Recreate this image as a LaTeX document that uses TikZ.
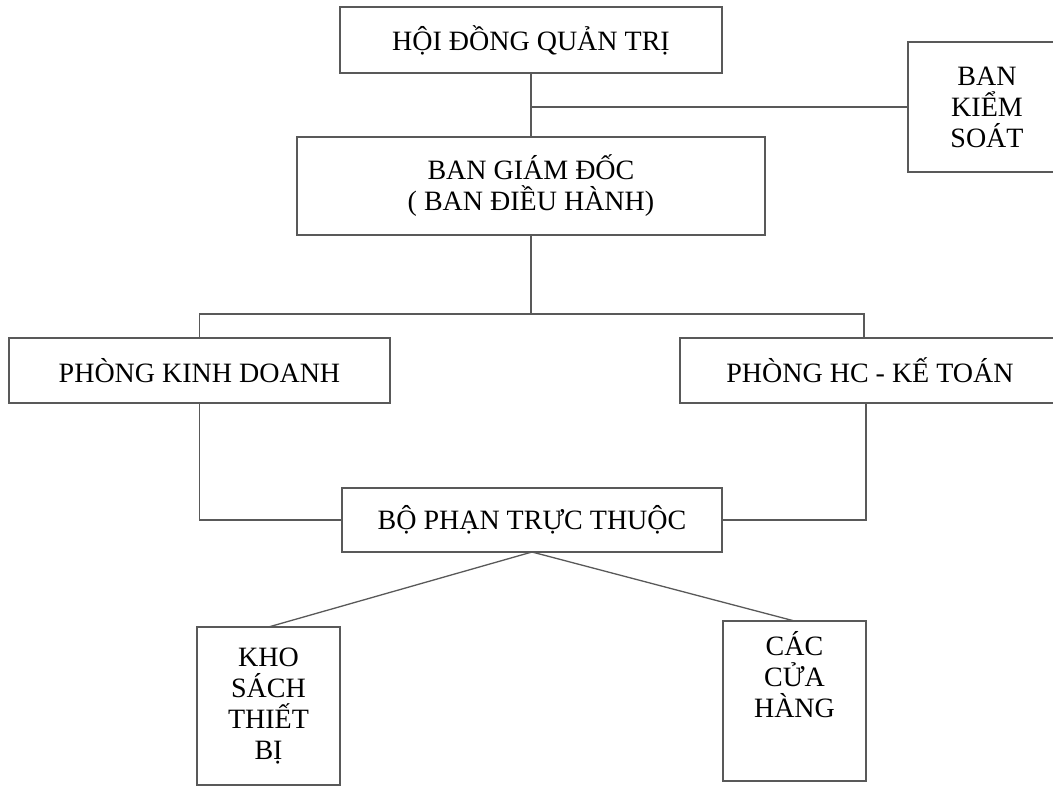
\documentclass[tikz,border=0pt]{standalone}
\usepackage{fontspec}
\setmainfont{Liberation Serif}
\usetikzlibrary{positioning}

\begin{document}
\begin{tikzpicture}[x=1pt,y=-1pt]
\tikzstyle{box}=[rectangle,draw=black!65,line width=1.3pt,
inner sep=0pt,outer sep=0pt,align=center,
font=\fontsize{28}{31}\selectfont]
\tikzstyle{link}=[draw=black!65,line width=1.3pt]
\useasboundingbox (0,0) rectangle (1053,787);

\node[box,minimum width=382,minimum height=66] at (531,40) (hdqt) {H\d{Ô}I ĐỒNG QUẢN TR\d{I}};
\node[box,minimum width=158,minimum height=130] at (987,107) (bks) {BAN\\KIỂM\\SOÁT};
\node[box,minimum width=468,minimum height=98] at (531,186) (bgd) {BAN GIÁM ĐỐC\\( BAN ĐIỀU HÀNH)};
\node[box,minimum width=381,minimum height=65] at (199.5,370.5) (pkd) {PHÒNG KINH DOANH};
\node[box,minimum width=380,minimum height=65] at (870,370.5) (phc) {PHÒNG HC - KẾ TOÁN};
\node[box,minimum width=380,minimum height=64] at (532,520) (bptt) {B\d{Ô} PH\d{A}N TR\d{Ư}C THUỘC};
\node[box,minimum width=143,minimum height=158] at (268.5,706) (kho) {KHO\\SÁCH\\THIẾT\\B\d{I}};
\node[box,minimum width=143,minimum height=160,text depth=54pt,inner ysep=8pt] at (794.5,701) (cac) {CÁC\\CỬA\\HÀNG};

\coordinate (split) at (531,314);

\path[link] (hdqt) -- (bgd);
\path[link] (hdqt.south |- bks.west) -- (bks.west);
\path[link] (bgd.south) -- (split);
\path[link] (pkd.north) |- (split) -| ([xshift=-6]phc.north);
\path[link] (pkd.south) |- (bptt.west);
\path[link] ([xshift=-4]phc.south) |- (bptt.east);
\path[link] (bptt.south) -- (kho.north);
\path[link] (bptt.south) -- (cac.north);

\end{tikzpicture}
\end{document}
